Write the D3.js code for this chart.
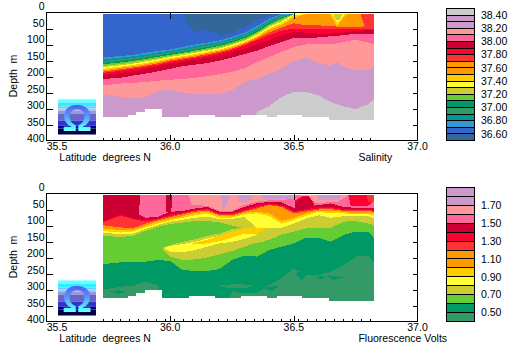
<!DOCTYPE html>
<html><head><meta charset="utf-8">
<script src="https://cdnjs.cloudflare.com/ajax/libs/d3/7.8.5/d3.min.js"></script>
<style>html,body{margin:0;background:#fff}svg{display:block}text{font-family:"Liberation Sans",Arial,sans-serif;font-size:10.5px;fill:#000;white-space:pre}</style>
</head><body><svg id="c" width="518" height="358"></svg>
<script>
// palette
const steel="#336699",royal="#3366CC",blue="#3399CC",teal="#009999",sea="#339966",tg="#009966",green="#66CC33",olive="#CCCC33",yellow="#FFFF33",gold="#FFCC00",orange="#FF9900",ro="#FF3333",red="#FF0033",crimson="#CC0033",pink="#FF6699",salmon="#FF9999",plum="#CC99CC",gray="#CCCCCC";

const depthTicks=[0,50,100,150,200,250,300,350,400];
const latTicks=[35.5,36.0,36.5,37.0];
const salLegendColors=[gray,plum,plum,salmon,pink,crimson,red,ro,orange,orange,gold,yellow,olive,green,tg,sea,teal,blue,royal,steel];
const salLegendLabels=["38.40","38.20","38.00","37.80","37.60","37.40","37.20","37.00","36.80","36.60"];
const fluLegendColors=[plum,plum,salmon,pink,crimson,red,ro,orange,orange,gold,yellow,olive,green,tg,sea];
const fluLegendLabels=["1.70","1.50","1.30","1.10","0.90","0.70","0.50"];

const lats=[35.727,35.8,35.85,35.9,35.95,36,36.05,36.1,36.15,36.2,36.25,36.3,36.35,36.4,36.45,36.5,36.55,36.6,36.65,36.7,36.75,36.8,36.825];
const floorLat=[35.727,35.829,35.863,35.9,35.967,36.075,36.18,36.288,36.393,36.43,36.535,36.642,36.825];
const floorDepth=[327,321,311,302,327,321,327,319,327,321,327,335,335];

// salinity: lower depth of each band at each latitude
const sPlum=[400,400,400,400,400,400,400,400,400,400,400,400,311,293,264,248,248,259,280,293,302,287,271];
const sSalmon=[256,264,267,265,245,241,250,254,256,254,243,217,207,193,175,152,141,157,167,170,181,181,170];
const sPink=[228,222,220,217,213,210,208,204,199,193,185,175,155,139,123,108,100,97,100,92,85,94,100];
const sCrimson=[208,204,197,191,184,176,168,163,158,150,141,130,120,105,92,79,79,78,74,71,66,66,66];
const sRed=[196,189,184,177,169,160,155,148,141,134,124,113,99,85,71,61,63,66,66,63,58,55,55];
const sRo=[189,182,176,170,163,155,148,142,135,127,117,103,87,71,57,50,50,53,53,50,50,50,50];
const sOrange=[185,177,172,166,159,150,144,138,130,123,113,99,82,63,47,34,40,40,43,45,45,43,40];
const sGold=[181,173,168,162,155,146,140,134,126,119,109,95,78,55,40,16,0,0,0,0,0,0,0];
const sYellow=[176,169,164,158,151,143,137,130,123,116,105,92,74,50,34,8,0,0,0,0,0,0,0];
const sOlive=[171,165,160,153,147,139,133,126,119,112,101,88,70,45,29,0,0,0,0,0,0,0,0];
const sGreen=[167,161,156,149,143,136,129,123,116,109,98,85,66,41,24,0,0,0,0,0,0,0,0];
const sTg=[162,156,151,145,139,132,126,119,112,104,94,80,62,37,19,0,0,0,0,0,0,0,0];
const sSea=[158,151,147,141,135,128,122,115,108,100,90,76,57,32,16,0,0,0,0,0,0,0,0];
const sTeal=[152,146,142,137,130,124,118,111,103,96,86,72,53,28,11,0,0,0,0,0,0,0,0];
const sBlue=[147,141,137,132,125,120,113,105,99,92,81,68,49,24,8,0,0,0,0,0,0,0,0];
const sRoyal=[141,136,132,126,120,115,108,100,94,87,76,63,43,19,0,0,0,0,0,0,0,0,0];
// salinity patches
const sSteelLat=[36.06,36.07,36.10,36.14,36.17,36.21,36.25,36.28,36.32,36.35,36.4,36.43];
const sSteelBot=[5,34,63,50,61,71,66,50,40,24,11,5];
const sVGoldLat=[36.645,36.675,36.715], sVGoldBot=[5,43,5];
const sVYellowLat=[36.655,36.677,36.705], sVYellowBot=[5,35,5];
const sVOliveLat=[36.66,36.67,36.685,36.697], sVOliveBot=[5,22,22,5];
const sEndRoLat=[36.77,36.79,36.825], sEndRoBot=[5,50,50];
const sBumpLat=[36.645,36.675,36.70], sBumpTop=[167,155,170], sBumpBot=[167,172,170];

// fluorescence
const fTg=[301,291,288,275,286,400,400,400,400,400,306,312,312,286,265,234,255,255,244,225,197,194,218];
const fGreen=[221,215,213,213,208,211,239,242,242,236,208,194,197,177,166,156,138,138,151,130,119,119,140];
const fOlive=[132,136,132,117,104,95,91,86,86,90,100,109,153,145,128,119,109,107,107,88,86,94,99];
const fYellow=[123,127,125,111,98,88,82,76,72,80,80,73,107,109,107,94,78,68,76,71,70,70,78];
const fGold=[117,122,119,106,94,84,76,68,63,76,75,65,62,70,94,83,70,57,62,62,65,65,70];
const fOrange=[109,114,114,101,88,79,71,61,57,71,71,60,57,62,86,76,62,54,54,57,62,62,62];
const fRo=[99,106,109,94,84,74,65,57,53,68,68,57,47,36,42,62,57,50,49,54,55,55,57];
const fRed=[90,70,80,88,81,70,62,54,49,65,64,54,43,34,39,58,52,47,45,52,51,51,54];
const fCrimson=[88,65,78,83,78,65,60,52,47,62,62,49,38,31,36,54,49,42,42,49,49,49,52];
const fPink=[57,57,57,76,73,57,55,47,42,57,57,42,31,26,28,45,42,36,31,42,45,45,47];
// fluorescence lens
const lensOliveLat=[35.97,36,36.05,36.1,36.15,36.2,36.25,36.3,36.35,36.38];
const lensOliveTop=[170,161,151,143,132,125,112,105,109,109];
const lensOliveBot=[176,197,208,206,200,190,180,166,154,151];
const lensYellowLat=[35.98,36,36.05,36.1,36.15,36.2,36.25,36.3,36.35];
const lensYellowTop=[168,164,158,151,140,132,122,109,109];
const lensYellowBot=[174,182,184,177,166,156,151,142,130];
const lensGoldLat=[36.09,36.1,36.15,36.2,36.25,36.3,36.35,36.385];
const lensGoldTop=[156,153,145,132,119,109,104,100];
const lensGoldBot=[158,159,156,149,138,125,125,112];
// fluorescence surface patches
const fSalmon1Lat=[36.075,36.085,36.15,36.2,36.25,36.3,36.35,36.4,36.45,36.5];
const fSalmon1Bot=[5,36,38,54,54,36,26,21,21,16];
const fSalmon2Lat=[36.52,36.55,36.6,36.65,36.68,36.72];
const fSalmon2Bot=[5,16,31,26,26,5];
const fPlum1Lat=[36.205,36.215,36.23,36.24], fPlum1Bot=[5,50,35,5];
const fPlum2Lat=[36.27,36.28,36.32,36.335], fPlum2Bot=[5,26,26,5];
const fPlum3Lat=[36.369,36.38,36.49,36.5], fPlum3Bot=[5,20,16,5];
const fPlum4Lat=[36.59,36.60,36.68,36.695], fPlum4Bot=[5,20,20,5];
const fHumpLat=[36.505,36.52,36.54,36.56,36.58];
const fHumpTop=[28,21,10,10,36], fHumpBot=[54,54,49,45,42];
const fHumpRedTop=[22,15,7,7,30];
const fTopRedLat=[36.72,36.73,36.80,36.815], fTopRedBot=[5,38,38,30];
const fTopRoLat=[36.795,36.80,36.825], fTopRoBot=[5,26,26];
const fLeftCrimsonLat=[35.727,35.8,35.85,35.87,35.88], fLeftCrimsonBot=[88,65,78,80,5];
const fStripLat=[35.983,35.985,36.005,36.007], fStripBot=[5,57,57,5];
// mottling at depth
const mSeaLat=[36.2,36.25,36.3,36.33], mSeaTop=[288,284,284,288], mSeaBot=[291,296,296,291];
const mTg1Lat=[36.51,36.53,36.55], mTg1Top=[249,244,249], mTg1Bot=[255,270,255];
const mTg2Lat=[36.63,36.66,36.7], mTg2Top=[255,258,262], mTg2Bot=[255,270,262];
const mTg3Lat=[35.76,35.79,35.82], mTg3Top=[306,302,308], mTg3Bot=[306,314,308];
const mTg4Lat=[36.38,36.41,36.44], mTg4Top=[295,290,288], mTg4Bot=[295,306,288];
const mTg5Lat=[36.59,36.61,36.63], mTg5Top=[262,258,262], mTg5Bot=[262,268,262];

const svg=d3.select("#c");
const x=d3.scaleLinear().domain([35.5,37]).range([46.5,417.5]);
const surf=5;

function panel(top,layers,xName,legendColors,legendLabels,labelEvery,legTop){
  const y=d3.scaleLinear().domain([0,400]).range([top,top+128]);
  const yLab=d3.scaleLinear().domain([0,400]).range([top-2.5,top+129.5]);
  const g=svg.append("g");
  const band=(color,la,bot,tp)=>{
    const a=d3.area().x((d,i)=>x(la[i])).y0((d,i)=>y(tp?tp[i]:surf)).y1((d,i)=>y(Math.max(bot[i],tp?tp[i]:surf)));
    g.append("path").attr("d",a(la)).attr("fill",color).attr("shape-rendering","crispEdges");
  };
  layers.forEach(l=>band(l[0],l[1],l[2],l[3]));
  // sea floor mask
  g.append("path").attr("fill","#fff").attr("shape-rendering","crispEdges")
   .attr("d",d3.area().curve(d3.curveStepAfter).x((d,i)=>x(floorLat[i])).y0(d=>y(d)).y1(y(400))(floorDepth));
  // logo
  const lg=svg.append("g").attr("transform",`translate(58,${top+86})`);
  const logoBands=[[0,1,"#ccffff"],[1,4,"#66ffff"],[4,8,"#33eeff"],[8,10,"#66ccff"],[10,12,"#99ccff"],[12,15,"#9999cc"],[15,22,"#6666cc"],[22,27,"#3333cc"],[27,30,"#000099"],[30,36,"#000044"]];
  lg.selectAll("rect").data(logoBands).join("rect").attr("x",0).attr("width",38).attr("y",d=>d[0]).attr("height",d=>d[1]-d[0]).attr("fill",d=>d[2]);
  lg.append("text").attr("x",19).attr("y",32).attr("text-anchor","middle").style("font-size","37px").style("font-weight","bold").style("fill","url(#om)").text("\u03A9");
  // frame + ticks
  const ax=g=>g.call(s=>s.select(".domain").remove()).call(s=>s.selectAll("text").remove()).call(s=>s.selectAll("line").attr("stroke","#000").attr("shape-rendering","crispEdges"));
  const inner=depthTicks.slice(1,-1);
  svg.append("g").attr("transform","translate(46.5,0)").call(d3.axisRight(y).tickValues(inner).tickSize(6)).call(ax);
  svg.append("g").attr("transform","translate(417.5,0)").call(d3.axisLeft(y).tickValues(inner).tickSize(5)).call(ax);
  svg.append("g").attr("transform",`translate(0,${top})`).call(d3.axisBottom(x).tickValues([36,36.5]).tickSize(6)).call(ax);
  svg.append("g").attr("transform",`translate(0,${top+128})`).call(d3.axisTop(x).tickValues([36,36.5]).tickSize(6)).call(ax);
  svg.append("g").attr("transform",`translate(0,${top+128})`).call(d3.axisTop(x).tickValues(d3.range(31).map(i=>35.727+i*0.03598)).tickSize(3)).call(ax);
  svg.append("rect").attr("x",46.5).attr("y",top).attr("width",371).attr("height",128).attr("fill","none").attr("stroke","#000");
  // labels
  svg.selectAll(null).data(depthTicks).join("text").attr("class","d").attr("x",44.5).attr("y",d=>yLab(d)).attr("text-anchor","end").text(d=>d);
  svg.selectAll(null).data(latTicks).join("text").attr("x",d=>d===35.5?57:x(d)).attr("y",top+137.5).attr("text-anchor","middle").text(d=>d.toFixed(1));
  svg.append("text").attr("x",59.3).attr("y",top+148.5).text("Latitude  degrees N");
  svg.append("text").attr("x",358.4).attr("y",top+148.5).text(xName);
  svg.append("text").attr("transform",`translate(17,${top+63.5}) rotate(-90)`).attr("text-anchor","middle").text("Depth  m");
  // legend
  const ly=d3.scaleBand().domain(d3.range(legendColors.length)).range([legTop,top+128]);
  svg.selectAll(null).data(legendColors).join("rect").attr("x",446.5).attr("width",28).attr("y",(d,i)=>ly(i)).attr("height",ly.bandwidth()).attr("fill",d=>d).attr("stroke","#000").attr("shape-rendering","crispEdges");
  svg.selectAll(null).data(legendLabels).join("text").attr("x",481).attr("y",(d,i)=>ly(labelEvery(i))+3.7).text(d=>d);
}

const defs=svg.append("defs").append("linearGradient").attr("id","om").attr("x1",0).attr("y1",0).attr("x2",0).attr("y2",1);
defs.append("stop").attr("offset","10%").attr("stop-color","#5544ee");
defs.append("stop").attr("offset","45%").attr("stop-color","#5599ff");
defs.append("stop").attr("offset","75%").attr("stop-color","#55ffff");
defs.append("stop").attr("offset","100%").attr("stop-color","#ddffff");

const deep=lats.map(()=>400);
panel(12.5,[
 [gray,lats,deep],[plum,lats,sPlum],[salmon,lats,sSalmon],[pink,lats,sPink],[crimson,lats,sCrimson],[red,lats,sRed],[ro,lats,sRo],[orange,lats,sOrange],
 [gold,sVGoldLat,sVGoldBot],[yellow,sVYellowLat,sVYellowBot],[olive,sVOliveLat,sVOliveBot],[ro,sEndRoLat,sEndRoBot],[plum,sBumpLat,sBumpBot,sBumpTop],
 [gold,lats,sGold],[yellow,lats,sYellow],[olive,lats,sOlive],[green,lats,sGreen],[tg,lats,sTg],[sea,lats,sSea],[teal,lats,sTeal],[blue,lats,sBlue],[royal,lats,sRoyal],
 [steel,sSteelLat,sSteelBot]
],"Salinity",salLegendColors,salLegendLabels,i=>2*i+1,8.5);

panel(193.5,[
 [sea,lats,deep],[tg,lats,fTg],[sea,mSeaLat,mSeaBot,mSeaTop],[tg,mTg1Lat,mTg1Bot,mTg1Top],[tg,mTg2Lat,mTg2Bot,mTg2Top],[tg,mTg3Lat,mTg3Bot,mTg3Top],[tg,mTg4Lat,mTg4Bot,mTg4Top],[tg,mTg5Lat,mTg5Bot,mTg5Top],
 [green,lats,fGreen],[olive,lats,fOlive],
 [olive,lensOliveLat,lensOliveBot,lensOliveTop],[yellow,lensYellowLat,lensYellowBot,lensYellowTop],[gold,lensGoldLat,lensGoldBot,lensGoldTop],
 [yellow,lats,fYellow],[gold,lats,fGold],[orange,lats,fOrange],[ro,lats,fRo],[red,lats,fRed],[crimson,lats,fCrimson],[pink,lats,fPink],
 [salmon,fSalmon1Lat,fSalmon1Bot],[salmon,fSalmon2Lat,fSalmon2Bot],
 [plum,fPlum1Lat,fPlum1Bot],[plum,fPlum2Lat,fPlum2Bot],[plum,fPlum3Lat,fPlum3Bot],[plum,fPlum4Lat,fPlum4Bot],
 [red,fHumpLat,fHumpBot,fHumpRedTop],[crimson,fHumpLat,fHumpBot,fHumpTop],[red,fTopRedLat,fTopRedBot],[ro,fTopRoLat,fTopRoBot],
 [crimson,fLeftCrimsonLat,fLeftCrimsonBot],[crimson,fStripLat,fStripBot]
],"Fluorescence Volts",fluLegendColors,fluLegendLabels,i=>2*i+2,187.5);
</script></body></html>
